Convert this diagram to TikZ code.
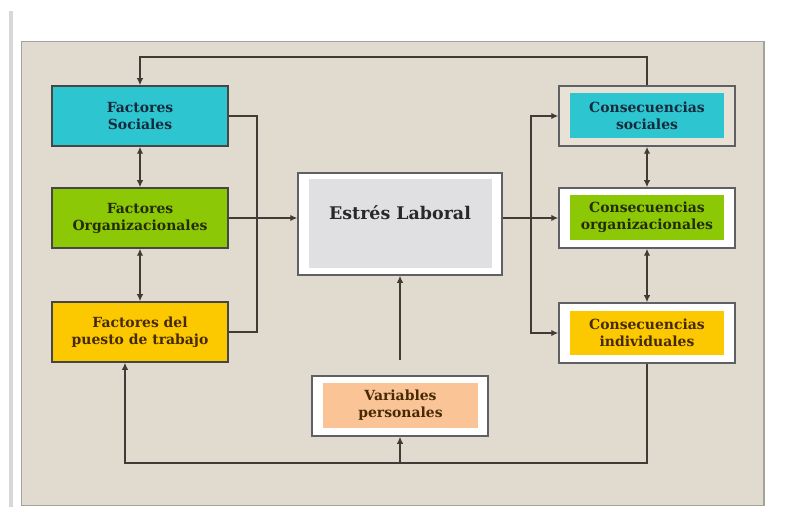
\documentclass[tikz,border=0pt]{standalone}
\usepackage{fontspec}
\setmainfont{DejaVu Serif}
\usetikzlibrary{arrows.meta,calc}
\definecolor{panel}{RGB}{225,218,207}
\definecolor{panelbd}{RGB}{165,162,158}
\definecolor{strip}{RGB}{215,215,215}
\definecolor{lnc}{RGB}{66,58,53}
\definecolor{cyanf}{RGB}{45,197,207}
\definecolor{greenf}{RGB}{140,200,5}
\definecolor{yellowf}{RGB}{252,200,0}
\definecolor{grayf}{RGB}{224,224,226}
\definecolor{peachf}{RGB}{250,196,150}
\definecolor{ringf}{RGB}{232,225,214}
\definecolor{txnavy}{RGB}{22,42,60}
\definecolor{txgreen}{RGB}{35,45,5}
\definecolor{txbrown}{RGB}{70,42,5}
\definecolor{txgray}{RGB}{40,40,42}
\definecolor{bdc}{RGB}{70,70,70}
\definecolor{bdo}{RGB}{95,95,100}
\tikzset{
  fbox/.style={draw=bdc,line width=1.5bp,minimum width=176bp,minimum height=60bp,inner sep=0pt,align=center,font=\fontsize{14}{17}\selectfont\bfseries},
  obox/.style={draw=bdo,line width=1.5bp,fill=white,minimum width=176bp,minimum height=60bp,inner sep=0pt},
  ibox/.style={inner sep=0pt,minimum width=154bp,minimum height=45bp,align=center,font=\fontsize{14}{17}\selectfont\bfseries},
  conn/.style={draw=lnc,line width=1.6bp},
  arr/.style={conn,-{Latex[length=7bp,width=6.5bp]}},
  dbl/.style={conn,{Latex[length=7bp,width=6.5bp]}-{Latex[length=7bp,width=6.5bp]}}
}
\begin{document}
\begin{tikzpicture}[x=1bp,y=-1bp]
\useasboundingbox (0,0) rectangle (797,507);
\fill[white] (0,0) rectangle (797,507);
\fill[strip] (9,11) rectangle (13,507);
\filldraw[fill=panel,draw=panelbd,line width=1.5bp] (21.5,41.5) rectangle (764,505.5);

% left boxes
\node[fbox,fill=cyanf,text=txnavy] (fs) at (140,116) {Factores\\Sociales};
\node[fbox,fill=greenf,text=txgreen] (fo) at (140,218) {Factores\\Organizacionales};
\node[fbox,fill=yellowf,text=txbrown] (fp) at (140,332) {Factores del\\puesto de trabajo};

% center
\node[obox,minimum width=204bp,minimum height=102bp] (el) at (400,224) {};
\node[inner sep=0pt,fill=grayf,minimum width=183bp,minimum height=89bp] (eli) at (400.5,223.5) {};
\node[text=txgray,font=\fontsize{17.5}{20}\selectfont\bfseries] (elt) at (400,213) {Estrés Laboral};

\node[obox] (vp) at (400,406) {};
\node[ibox,fill=peachf,text=txbrown,minimum width=155bp] (vpi) at (400.5,405.5) {Variables\\personales};

% right boxes
\node[obox,fill=ringf] (cs) at (647,116) {};
\node[ibox,fill=cyanf,text=txnavy] (csi) at (647,115.5) {Consecuencias\\sociales};
\node[obox] (co) at (647,218) {};
\node[ibox,fill=greenf,text=txgreen] (coi) at (647,217.5) {Consecuencias\\organizacionales};
\node[obox] (ci) at (647,333) {};
\node[ibox,fill=yellowf,text=txbrown,minimum height=44bp] (cii) at (647,333) {Consecuencias\\individuales};

% connectors
\draw[arr] (cs.north) -- ++(0,-28) -| (fs.north);
\draw[dbl] (fs.south) -- (fo.north);
\draw[dbl] (fo.south) -- (fp.north);
\draw[conn] (fs.east) -- ++(28,0) |- (fp.east);
\draw[arr] (fo.east) -- (fo.east -| el.west);
\draw[arr] (el.east |- co.west) -- (co.west);
\coordinate (jr) at (531,218);
\draw[arr] (jr) |- (cs.west);
\draw[arr] (jr) |- (ci.west);
\draw[dbl] (cs.south) -- (co.north);
\draw[dbl] (co.south) -- (ci.north);
\coordinate (fpin) at ($(fp.south)+(-15,0)$);
\coordinate (bl) at ($(ci.south)+(0,99)$);
\draw[arr] (ci.south) -- (bl) -| (fpin);
\coordinate (bm) at (vp.south |- bl);
\draw[arr] (bm) -- (vp.south);
\coordinate (vtop) at ($(vp.north)+(0,-15)$);
\draw[arr] (vtop) -- (el.south);
\end{tikzpicture}
\end{document}
